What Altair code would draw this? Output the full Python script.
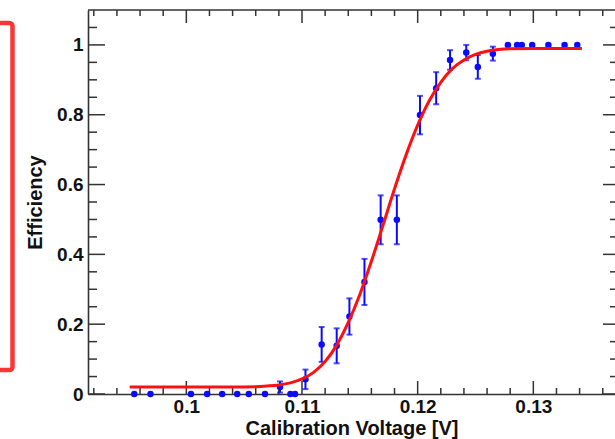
import altair as alt
import pandas as pd

# ---- data ----
volt = [0.0955, 0.0969, 0.1004, 0.1018, 0.1031, 0.1044, 0.1054, 0.1068, 0.1081, 0.1090,
        0.1094, 0.1103, 0.1117, 0.1130, 0.1141, 0.1154, 0.1168, 0.1182, 0.1202, 0.1216,
        0.1228, 0.1242, 0.1252, 0.1265, 0.1278, 0.1286, 0.1290, 0.1299, 0.1313, 0.1327,
        0.1338]
eff = [0, 0, 0, 0, 0, 0, 0, 0, 0.020, 0,
       0, 0.042, 0.142, 0.138, 0.222, 0.321, 0.499, 0.499, 0.799, 0.876,
       0.957, 0.978, 0.937, 0.975, 1.0, 1.0, 1.0, 1.0, 1.0, 1.0,
       1.0]
err = [0, 0, 0, 0, 0, 0, 0, 0, 0.016, 0,
       0, 0.028, 0.050, 0.050, 0.052, 0.066, 0.070, 0.070, 0.055, 0.046,
       0.028, 0.022, 0.034, 0.020, 0, 0, 0, 0, 0, 0,
       0]

fit_x = [0.0951, 0.100, 0.104, 0.106, 0.107, 0.108, 0.109, 0.110, 0.111, 0.112,
         0.113, 0.114, 0.115, 0.116, 0.117, 0.118, 0.119, 0.120, 0.121, 0.122,
         0.123, 0.124, 0.125, 0.126, 0.127, 0.128, 0.130, 0.1342]
fit_y = [0.020, 0.020, 0.020, 0.021, 0.023, 0.026, 0.032, 0.043, 0.062, 0.093,
         0.140, 0.205, 0.285, 0.380, 0.483, 0.588, 0.685, 0.770, 0.840, 0.893,
         0.932, 0.957, 0.973, 0.982, 0.987, 0.989, 0.990, 0.990]

x_major = [0.10, 0.11, 0.12, 0.13]
x_minor = [0.092, 0.094, 0.096, 0.098, 0.102, 0.104, 0.106, 0.108, 0.112, 0.114,
           0.116, 0.118, 0.122, 0.124, 0.126, 0.128, 0.132, 0.134, 0.136]
y_major = [0, 0.2, 0.4, 0.6, 0.8, 1.0]
y_minor = [0.05, 0.1, 0.15, 0.25, 0.3, 0.35, 0.45, 0.5, 0.55, 0.65, 0.7, 0.75,
           0.85, 0.9, 0.95, 1.05]

x_title = "Calibration Voltage [V]"
y_title = "Efficiency"

# ---- layout / style ----
W, H = 527, 384
XDOM = [0.0915, 0.13706]
YDOM = [0, 1.1]
FONT = "Liberation Sans"
BLUE = "#0a0aff"
RED = "#ff1010"
FRAME = "#333333"

xs = alt.Scale(domain=XDOM, nice=False, zero=False)
ys = alt.Scale(domain=YDOM, nice=False, zero=False)

x_axis = alt.Axis(values=x_major, format=".2~f", title=x_title, ticks=False, tickSize=0,
                  labelPadding=3, grid=False, domain=True, domainColor=FRAME, domainWidth=1.6,
                  titleY=40, titleBaseline="alphabetic")
y_axis = alt.Axis(values=y_major, format="~g", title=y_title, ticks=False, tickSize=0,
                  labelPadding=5, grid=False, domain=True, domainColor=FRAME, domainWidth=1.6,
                  titleX=-43, titleBaseline="bottom")


def X(field):
    return alt.X(field, type="quantitative", scale=xs, axis=x_axis)


def Y(field):
    return alt.Y(field, type="quantitative", scale=ys, axis=y_axis)


df = pd.DataFrame({"v": volt, "e": eff, "err": err})
df["lo"] = df["e"] - df["err"]
df["hi"] = df["e"] + df["err"]
fit = pd.DataFrame({"v": fit_x, "e": fit_y})
one = pd.DataFrame({"a": [0]})
xmaj = pd.DataFrame({"t": x_major})
xmin = pd.DataFrame({"t": x_minor})
ymaj = pd.DataFrame({"t": y_major})
ymin = pd.DataFrame({"t": y_minor})

top_frame = alt.Chart(one).mark_rule(color=FRAME, strokeWidth=1.6).encode(
    x=alt.value(0), x2=alt.value(W), y=alt.value(0)
)


def xticks(data, y1, y2):
    return alt.Chart(data).mark_rule(color=FRAME, strokeWidth=1.5).encode(
        x=X("t"), y=alt.value(y1), y2=alt.value(y2)
    )


def yticks(data, x1, x2):
    return alt.Chart(data).mark_rule(color=FRAME, strokeWidth=1.5).encode(
        y=Y("t"), x=alt.value(x1), x2=alt.value(x2)
    )


ticks = [
    xticks(xmaj, H, H - 13), xticks(xmin, H, H - 6),
    xticks(xmaj, 0, 13), xticks(xmin, 0, 6),
    yticks(ymaj, 0, 17), yticks(ymin, 0, 9),
    yticks(ymaj, W, W - 12), yticks(ymin, W, W - 5),
]

red_box = alt.Chart(one).mark_rect(fillOpacity=0, stroke="#ff3535", strokeWidth=4.5,
                                   cornerRadius=3).encode(
    x=alt.value(-120), x2=alt.value(-75.5), y=alt.value(13), y2=alt.value(360)
)

eb = alt.Chart(df).transform_filter("datum.err > 0")
bars = eb.mark_rule(color=BLUE, strokeWidth=2).encode(x=X("v"), y=Y("lo"), y2="hi:Q")
cap_lo = eb.mark_tick(color=BLUE, orient="horizontal", size=6, thickness=2).encode(
    x=X("v"), y=Y("lo"))
cap_hi = eb.mark_tick(color=BLUE, orient="horizontal", size=6, thickness=2).encode(
    x=X("v"), y=Y("hi"))
points = alt.Chart(df).mark_circle(color=BLUE, size=42, opacity=1).encode(x=X("v"), y=Y("e"))
curve = alt.Chart(fit).mark_line(color=RED, strokeWidth=3, interpolate="monotone").encode(
    x=X("v"), y=Y("e"))

chart = alt.layer(
    red_box, top_frame, *ticks, bars, cap_lo, cap_hi, points, curve
).properties(
    width=W, height=H,
    padding={"left": 88, "top": 10, "right": 0, "bottom": 45},
    autosize=alt.AutoSizeParams(type="none"),
    background="white",
).configure_view(stroke=None).configure_axis(
    labelFont=FONT, labelFontWeight="bold", labelFontSize=19, labelColor="#111111",
    titleFont=FONT, titleFontWeight="bold", titleFontSize=20, titleColor="#111111",
)

chart.save("out.html", embed_options={"renderer": "svg", "actions": False})
